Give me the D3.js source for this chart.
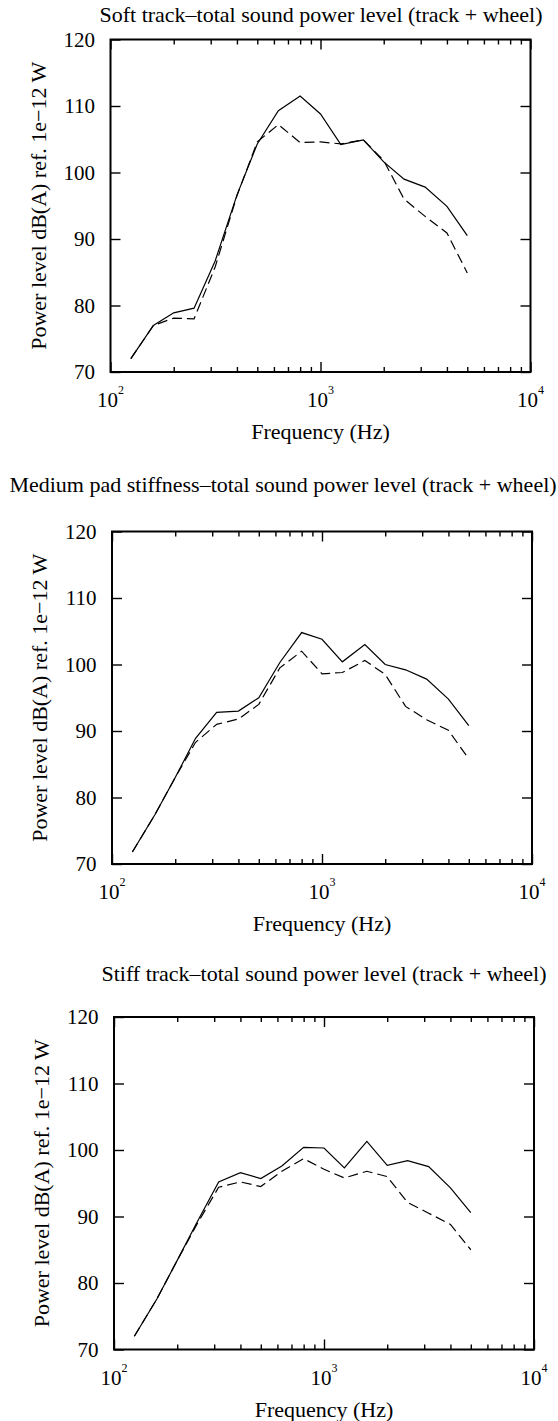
<!DOCTYPE html>
<html>
<head>
<meta charset="utf-8">
<script src="https://cdn.jsdelivr.net/npm/d3@7"></script>
<style>
  html, body { margin: 0; padding: 0; background: #fff; }
  svg { display: block; }
  text { font-family: "Liberation Serif", "Times New Roman", Times, serif; fill: #000; }
</style>
</head>
<body>
<svg id="fig" width="558" height="1421"></svg>
<script>
// One-third octave band centre frequencies (Hz)
const freqs = [125, 160, 200, 250, 315, 400, 500, 630, 800, 1000, 1250, 1600, 2000, 2500, 3150, 4000, 5000];

// Soft track
const softSolid  = [72.0, 77.0, 78.9, 79.6, 86.7, 96.6, 104.3, 109.3, 111.5, 108.8, 104.2, 104.9, 101.6, 99.0, 97.8, 94.9, 90.5];
const softDashed = [72.0, 77.0, 78.1, 78.0, 85.8, 96.5, 104.6, 107.2, 104.5, 104.6, 104.3, 104.9, 101.8, 96.0, 93.4, 90.9, 84.9];

// Medium pad stiffness
const medSolid  = [71.8, 77.4, 83.0, 88.9, 92.8, 93.0, 95.0, 100.3, 104.8, 103.8, 100.4, 103.0, 100.0, 99.2, 97.8, 94.8, 90.8];
const medDashed = [71.8, 77.4, 83.0, 88.3, 91.0, 91.8, 94.0, 99.5, 102.0, 98.6, 98.8, 100.6, 98.5, 93.7, 91.7, 90.1, 85.8];

// Stiff track
const stiffSolid  = [72.0, 77.6, 83.4, 89.3, 95.2, 96.6, 95.7, 97.6, 100.4, 100.3, 97.3, 101.3, 97.7, 98.4, 97.5, 94.3, 90.6];
const stiffDashed = [72.0, 77.6, 83.4, 89.0, 94.4, 95.2, 94.5, 96.8, 98.7, 97.1, 95.8, 96.8, 96.0, 92.1, 90.5, 88.8, 85.0];

const titles = [
  "Soft track\u2013total sound power level (track + wheel)",
  "Medium pad stiffness\u2013total sound power level (track + wheel)",
  "Stiff track\u2013total sound power level (track + wheel)"
];
const yTicks = [70, 80, 90, 100, 110, 120];
const xMajor = [100, 1000, 10000];
const xMajorExp = ["2", "3", "4"];
const xMinor = [200, 300, 400, 500, 600, 700, 800, 900, 2000, 3000, 4000, 5000, 6000, 7000, 8000, 9000];
const xLabel = "Frequency (Hz)";
const yLabel = "Power level dB(A) ref. 1e\u221212 W";

// Panel placement on the page
const panels = [
  { left: 110.5, top: 39.5,  solid: softSolid,  dashed: softDashed,  titleX: 321, titleY: 22 },
  { left: 112,   top: 531.5, solid: medSolid,   dashed: medDashed,   titleX: 283, titleY: 492 },
  { left: 114,   top: 1017,  solid: stiffSolid, dashed: stiffDashed, titleX: 324, titleY: 981 }
];
const W = 420, H = 332.5;

const svg = d3.select("#fig");

panels.forEach((p, i) => {
  const x = d3.scaleLog().domain([100, 10000]).range([0, W]);
  const y = d3.scaleLinear().domain([70, 120]).range([H, 0]);
  const g = svg.append("g").attr("transform", `translate(${p.left},${p.top})`);

  // Title
  svg.append("text")
    .attr("x", p.titleX).attr("y", p.titleY)
    .attr("text-anchor", "middle")
    .style("font-size", "22px")
    .text(titles[i]);

  // Inward ticks on all four sides
  const tickStyle = sel => {
    sel.select(".domain").remove();
    sel.selectAll(".tick line").attr("stroke", "#000").attr("stroke-width", 1.4);
    sel.selectAll(".tick text").remove();
  };
  g.append("g").attr("transform", `translate(0,${H})`)
    .call(d3.axisBottom(x).tickValues(xMajor).tickSize(-10)).call(tickStyle);
  g.append("g").attr("transform", `translate(0,${H})`)
    .call(d3.axisBottom(x).tickValues(xMinor).tickSize(-5)).call(tickStyle);
  g.append("g")
    .call(d3.axisTop(x).tickValues(xMajor).tickSize(-10)).call(tickStyle);
  g.append("g")
    .call(d3.axisTop(x).tickValues(xMinor).tickSize(-5)).call(tickStyle);
  g.append("g")
    .call(d3.axisLeft(y).tickValues(yTicks).tickSize(-10)).call(tickStyle);
  g.append("g").attr("transform", `translate(${W},0)`)
    .call(d3.axisRight(y).tickValues(yTicks).tickSize(-10)).call(tickStyle);

  // Y tick labels
  g.selectAll("text.ylab").data(yTicks).enter().append("text")
    .attr("class", "ylab")
    .attr("x", -15.5).attr("y", d => y(d))
    .attr("dy", "0.35em")
    .attr("text-anchor", "end")
    .style("font-size", "21px")
    .text(d => d);

  // X tick labels as powers of ten
  xMajor.forEach((v, k) => {
    const t = g.append("text")
      .attr("x", x(v)).attr("y", H + 35)
      .attr("text-anchor", "middle")
      .style("font-size", "21px");
    t.append("tspan").text("10");
    t.append("tspan").attr("dy", -13).style("font-size", "12px").text(xMajorExp[k]);
  });

  // Axis titles
  g.append("text")
    .attr("x", W / 2).attr("y", H + 67)
    .attr("text-anchor", "middle")
    .style("font-size", "22px")
    .text(xLabel);
  g.append("text")
    .attr("transform", `translate(-65,${H / 2}) rotate(-90)`)
    .attr("text-anchor", "middle")
    .style("font-size", "22px")
    .text(yLabel);

  // Curves
  const line = d3.line().x((d, j) => x(freqs[j])).y(d => y(d));
  g.append("path").datum(p.solid)
    .attr("d", line).attr("fill", "none")
    .attr("stroke", "#000").attr("stroke-width", 1.2);
  g.append("path").datum(p.dashed)
    .attr("d", line).attr("fill", "none")
    .attr("stroke", "#000").attr("stroke-width", 1.2)
    .attr("stroke-dasharray", "10,5");

  // Frame
  g.append("rect")
    .attr("x", 0).attr("y", 0).attr("width", W).attr("height", H)
    .attr("fill", "none").attr("stroke", "#000").attr("stroke-width", 2);
});
</script>
</body>
</html>
